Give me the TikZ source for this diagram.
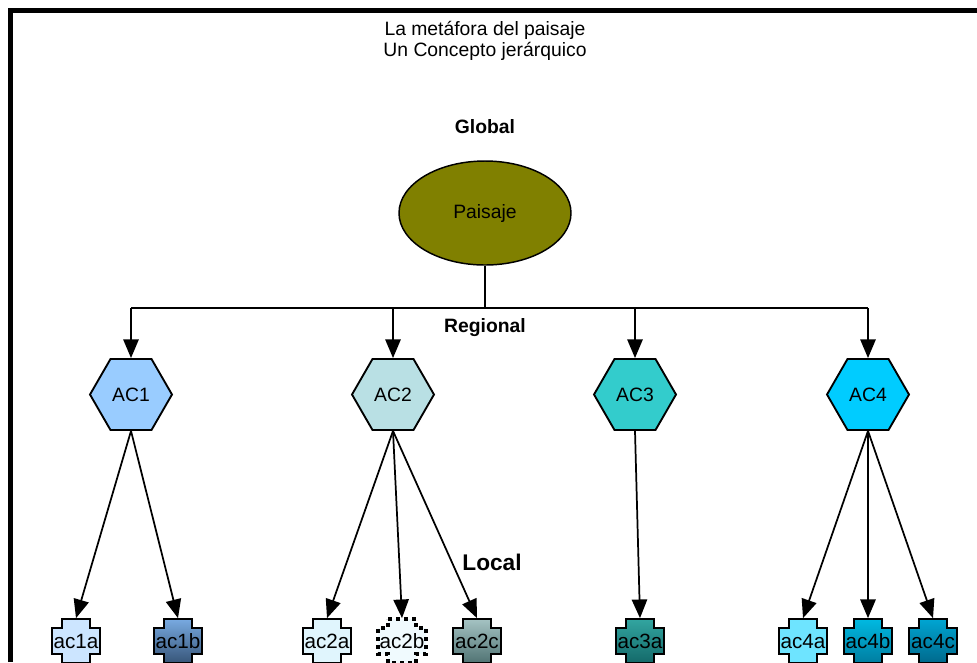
\documentclass[tikz,border=0pt]{standalone}
\usepackage{fontspec}
\setmainfont{Liberation Sans}
\usetikzlibrary{shapes.geometric,arrows.meta}

\definecolor{olivo}{HTML}{808000}
\definecolor{celeste}{HTML}{99CCFF}
\definecolor{grisazul}{HTML}{B9E0E4}
\definecolor{turquesa}{HTML}{33CCCC}
\definecolor{cielo}{HTML}{00CCFF}

% hoja en forma de cruz: #1 = x, #2 = relleno, #3 = nombre
\newcommand{\cruz}[3]{%
  \draw[line width=1.5pt,#2] (#1-14,619) -- (#1+14,619) -- (#1+14,628) -- (#1+24,628)
    -- (#1+24,654) -- (#1+14,654) -- (#1+14,663) -- (#1-14,663) -- (#1-14,654)
    -- (#1-24,654) -- (#1-24,628) -- (#1-14,628) -- cycle;
  \node[hoja] (#3) at (#1,641) {#3};}

\begin{document}
\begin{tikzpicture}[x=0.75pt,y=-0.75pt,line width=1.3pt,font=\fontsize{14.5}{16}\selectfont,
  flecha/.style={-{Triangle[length=14pt,width=11.5pt]}},
  hexa/.style={regular polygon,regular polygon sides=6,draw,line width=1.4pt,minimum size=61.5pt,inner sep=0pt},
  hoja/.style={inner sep=0pt,minimum width=21pt,minimum height=33pt,font=\fontsize{15.5}{17}\selectfont},
  nivel/.style={font=\fontsize{14.5}{17}\selectfont\bfseries}]
\useasboundingbox (0,0) rectangle (977,662);
\draw[line width=3.75pt] (10.5,662) -- (10.5,10.5) -- (977,10.5);

\node[align=center] (titulo) at (485,41) {La metáfora del paisaje\\Un Concepto jerárquico};
\node[nivel] (global) at (485,127) {Global};
\node[nivel] (regional) at (485,328) {Regional};
\node[nivel,font=\fontsize{17}{19}\selectfont\bfseries] (local) at (492,562) {Local};

\node[ellipse,draw,line width=1.1pt,fill=olivo,minimum width=129pt,minimum height=78pt,inner sep=0pt] (paisaje) at (485,213) {Paisaje};

\node[hexa,fill=celeste] (AC1) at (131,394.5) {AC1};
\node[hexa,fill=grisazul] (AC2) at (393,394.5) {AC2};
\node[hexa,fill=turquesa] (AC3) at (635,394.5) {AC3};
\node[hexa,fill=cielo] (AC4) at (868,394.5) {AC4};

\coordinate (bus) at (485,308);
\draw (paisaje.south) -- (bus);
\draw (AC1.north |- bus) -- (AC4.north |- bus);
\foreach \n in {AC1,AC2,AC3,AC4}
  \draw[flecha] (\n.north |- bus) -- (\n.north);

\cruz{76}{fill={rgb,255:red,204;green,229;blue,255}}{ac1a}
\cruz{178}{top color={rgb,255:red,120;green,170;blue,225},bottom color={rgb,255:red,55;green,85;blue,120}}{ac1b}
\cruz{327}{fill=cyan!12!white}{ac2a}
\cruz{402}{fill=cyan!6!white,dash pattern=on 3pt off 3pt,line width=2.5pt}{ac2b}
\cruz{477}{top color={rgb,255:red,165;green,195;blue,195},bottom color={rgb,255:red,80;green,115;blue,115}}{ac2c}
\cruz{640}{top color={rgb,255:red,50;green,165;blue,160},bottom color={rgb,255:red,20;green,105;blue,105}}{ac3a}
\cruz{803}{fill={rgb,255:red,110;green,228;blue,255}}{ac4a}
\cruz{868}{top color={rgb,255:red,0;green,185;blue,225},bottom color={rgb,255:red,0;green,125;blue,160}}{ac4b}
\cruz{933}{top color={rgb,255:red,0;green,165;blue,210},bottom color={rgb,255:red,0;green,105;blue,140}}{ac4c}

\draw[flecha] (AC1.south) -- (ac1a.north);
\draw[flecha] (AC1.south) -- (ac1b.north);
\draw[flecha] (AC2.south) -- (ac2a.north);
\draw[flecha] (AC2.south) -- (ac2b.north);
\draw[flecha] (AC2.south) -- (ac2c.north);
\draw[flecha] (AC3.south) -- (ac3a.north);
\draw[flecha] (AC4.south) -- (ac4a.north);
\draw[flecha] (AC4.south) -- (ac4b.north);
\draw[flecha] (AC4.south) -- (ac4c.north);
\end{tikzpicture}
\end{document}
